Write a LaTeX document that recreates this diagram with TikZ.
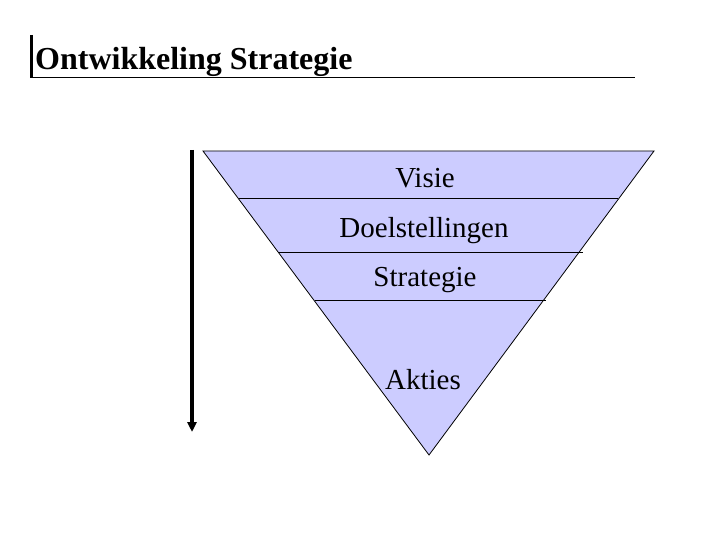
\documentclass[tikz,border=0pt]{standalone}
\usepackage{fontspec}
\setmainfont{Liberation Serif}
\usetikzlibrary{arrows.meta}
\definecolor{lav}{RGB}{204,204,255}
\begin{document}
\begin{tikzpicture}[x=1pt,y=-1pt,
  lbl/.style={anchor=base,inner sep=0pt,font=\fontsize{29}{31}\selectfont},
  sep/.style={draw=black,line width=0.8pt}]
\useasboundingbox (0,0) rectangle (720,540);
% title
\draw[line width=3pt] (31,35) -- (31,78);
\draw[line width=1pt] (30,78) -- (635,78);
\node[anchor=base west,inner sep=0pt,font=\fontsize{32}{34}\selectfont\bfseries] (title) at (35,70) {Ontwikkeling Strategie};
% funnel
\coordinate (tl) at (203,151);
\coordinate (tr) at (654,151);
\coordinate (ap) at (429,455);
\filldraw[fill=lav,draw=black,line width=0.8pt] (tl) -- (tr) -- (ap) -- cycle;
\draw[sep] (239,198) -- (618,198);
\draw[sep] (279,252) -- (583,252);
\draw[sep] (315,300) -- (546,300);
\node[lbl] (visie) at (425,188) {Visie};
\node[lbl] (doel) at (424,237) {Doelstellingen};
\node[lbl] (strat) at (425,286) {Strategie};
\node[lbl] (akt) at (423,389) {Akties};
% arrow
\coordinate (as) at (192,150);
\coordinate (ae) at (192,432);
\draw[line width=4pt,-{Triangle[length=10pt,width=9pt]}] (as) -- (ae);
\end{tikzpicture}
\end{document}
